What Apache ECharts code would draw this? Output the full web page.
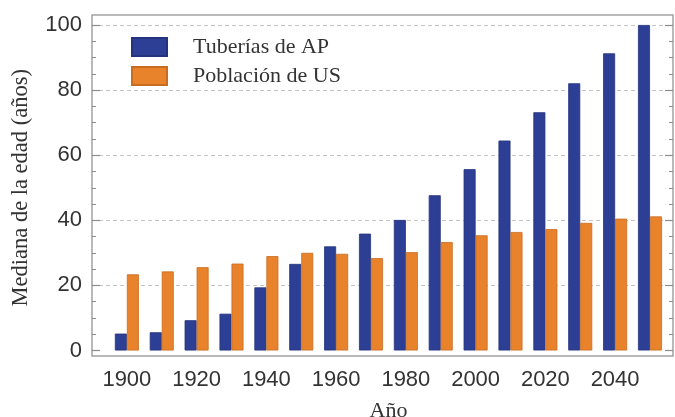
<!DOCTYPE html>
<html>
<head>
<meta charset="utf-8">
<script src="https://cdn.jsdelivr.net/npm/echarts@6/dist/echarts.min.js"></script>
<style>
  html, body { margin: 0; padding: 0; background: #ffffff; }
  #chart { width: 675px; height: 417px; }
</style>
</head>
<body>
<div id="chart"></div>
<script>
// Median age by decade: water pipes vs. US population
const years = [1900, 1910, 1920, 1930, 1940, 1950, 1960, 1970, 1980, 1990, 2000, 2010, 2020, 2030, 2040, 2050];
const tuberias = [5.2, 5.6, 9.3, 11.3, 19.4, 26.6, 32.0, 35.9, 40.1, 47.7, 55.7, 64.5, 73.2, 82.1, 91.3, 100];
const poblacion = [23.4, 24.3, 25.6, 26.7, 29.0, 30.0, 29.7, 28.4, 30.2, 33.3, 35.4, 36.4, 37.3, 39.2, 40.5, 41.2];
const yTicks = [0, 20, 40, 60, 80, 100];
const seriesNames = ['Tuberías de AP', 'Población de US'];

const BLUE = '#2d3f95';
const ORANGE = '#e8832c';
const TEXT = '#333333';
const TICK = '#8c8c8c';
const SANS = '"Liberation Sans", Arial, sans-serif';
const SERIF = '"Liberation Serif", "Times New Roman", serif';

const chart = echarts.init(document.getElementById('chart'), null, { renderer: 'canvas' });

// hide the gridline at the baseline, dash the rest
const gridColors = yTicks.map(v => v === 0 ? 'rgba(0,0,0,0)' : '#c4c4c4');

const option = {
  animation: false,
  backgroundColor: '#ffffff',
  grid: [
    // plotting area
    { left: 92, right: 2, top: 25, bottom: 66.5, outerBoundsMode: 'none', containLabel: false },
    // outer frame, slightly larger than the data range
    { left: 92, right: 2, top: 15, bottom: 61, show: true, outerBoundsMode: 'none', containLabel: false,
      borderColor: '#a2a2a2', borderWidth: 1.5, backgroundColor: 'rgba(0,0,0,0)' }
  ],
  legend: {
    orient: 'vertical',
    left: 126,
    top: 31,
    itemWidth: 35,
    itemHeight: 18,
    itemGap: 7,
    icon: 'rect',
    data: seriesNames,
    textStyle: {
      fontFamily: SERIF,
      fontSize: 22,
      color: TEXT,
      padding: [0, 0, 0, 21]
    }
  },
  xAxis: [
    {
      type: 'value',
      gridIndex: 0,
      min: 1890,
      max: 2056.6,
      interval: 10,
      name: 'Año',
      nameLocation: 'middle',
      nameGap: 50,
      nameTextStyle: { fontFamily: SERIF, fontSize: 22, color: TEXT, padding: [0, 0, 0, 12] },
      axisLine: { show: false },
      axisTick: { show: false },
      splitLine: { show: false },
      axisLabel: {
        margin: 18,
        fontFamily: SANS,
        fontSize: 22,
        color: TEXT,
        showMinLabel: false,
        showMaxLabel: false,
        formatter: v => (v % 20 === 0 && v >= 1900 && v <= 2040) ? String(v) : ''
      }
    },
    { type: 'value', gridIndex: 1, show: false, min: 0, max: 1 }
  ],
  yAxis: [
    {
      type: 'value',
      gridIndex: 0,
      min: 0,
      max: 100,
      interval: 20,
      name: 'Mediana de la edad (años)',
      nameLocation: 'middle',
      nameRotate: 90,
      nameGap: 59,
      nameTextStyle: { fontFamily: SERIF, fontSize: 22.5, color: TEXT },
      axisLine: { show: false },
      axisTick: { show: true, inside: true, length: 8, lineStyle: { color: TICK, width: 1.2 } },
      minorTick: { show: true, splitNumber: 4, length: 4, lineStyle: { color: TICK, width: 1 } },
      axisLabel: { margin: 10, fontFamily: SANS, fontSize: 22, color: TEXT },
      splitLine: { show: true, lineStyle: { color: gridColors, type: [4, 3], width: 1 } }
    },
    {
      type: 'value',
      gridIndex: 0,
      position: 'right',
      min: 0,
      max: 100,
      interval: 20,
      axisLine: { show: false },
      axisTick: { show: true, inside: true, length: 8, lineStyle: { color: TICK, width: 1.2 } },
      minorTick: { show: true, splitNumber: 4, length: 4, lineStyle: { color: TICK, width: 1 } },
      axisLabel: { show: false },
      splitLine: { show: false }
    },
    { type: 'value', gridIndex: 1, show: false, min: 0, max: 1 }
  ],
  series: [
    {
      name: seriesNames[0],
      type: 'bar',
      xAxisIndex: 0,
      yAxisIndex: 0,
      barWidth: 12,
      barGap: '0%',
      itemStyle: { color: BLUE, borderColor: '#24337d', borderWidth: 0.8 },
      data: years.map((y, i) => [y, tuberias[i]])
    },
    {
      name: seriesNames[1],
      type: 'bar',
      xAxisIndex: 0,
      yAxisIndex: 0,
      barWidth: 12,
      barGap: '0%',
      itemStyle: { color: ORANGE, borderColor: '#c86c22', borderWidth: 0.8 },
      data: years.map((y, i) => [y, poblacion[i]])
    }
  ]
};

chart.setOption(option);
</script>
</body>
</html>
